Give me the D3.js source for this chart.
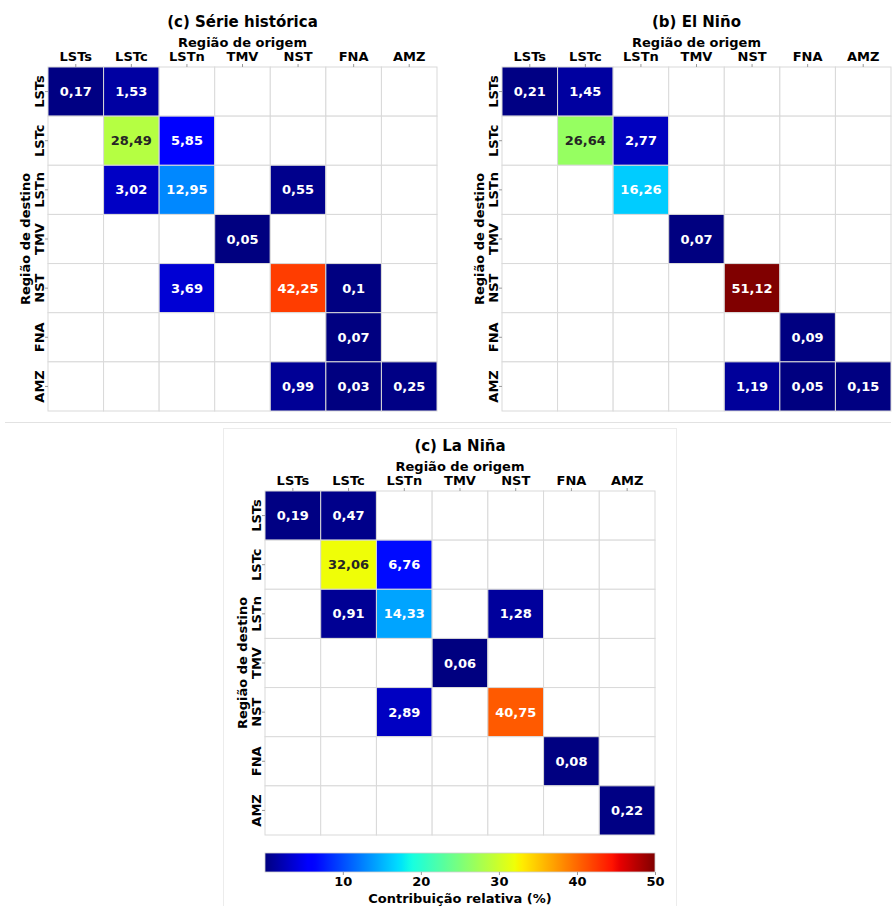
<!DOCTYPE html>
<html>
<head>
<meta charset="utf-8">
<script src="https://cdn.jsdelivr.net/npm/d3@7/dist/d3.min.js"></script>
<style>
  html, body { margin: 0; padding: 0; background: #fff; }
  svg { display: block; font-family: "DejaVu Sans", sans-serif; }
</style>
</head>
<body>
<svg id="chart" width="896" height="906"></svg>
<script>
// Regions (origin = columns, destination = rows)
const regions = ["LSTs", "LSTc", "LSTn", "TMV", "NST", "FNA", "AMZ"];

// Relative contribution (%), rows = destination, columns = origin; null = no contribution
const serieHistorica = [
  [0.17, 1.53, null, null, null, null, null],
  [null, 28.49, 5.85, null, null, null, null],
  [null, 3.02, 12.95, null, 0.55, null, null],
  [null, null, null, 0.05, null, null, null],
  [null, null, 3.69, null, 42.25, 0.1, null],
  [null, null, null, null, null, 0.07, null],
  [null, null, null, null, 0.99, 0.03, 0.25]
];
const elNino = [
  [0.21, 1.45, null, null, null, null, null],
  [null, 26.64, 2.77, null, null, null, null],
  [null, null, 16.26, null, null, null, null],
  [null, null, null, 0.07, null, null, null],
  [null, null, null, null, 51.12, null, null],
  [null, null, null, null, null, 0.09, null],
  [null, null, null, null, 1.19, 0.05, 0.15]
];
const laNina = [
  [0.19, 0.47, null, null, null, null, null],
  [null, 32.06, 6.76, null, null, null, null],
  [null, 0.91, 14.33, null, 1.28, null, null],
  [null, null, null, 0.06, null, null, null],
  [null, null, 2.89, null, 40.75, null, null],
  [null, null, null, null, null, 0.08, null],
  [null, null, null, null, null, null, 0.22]
];
const panelTitles = ["(c) Série histórica", "(b) El Niño", "(c) La Niña"];
const colorbarTicks = [10, 20, 30, 40, 50];
const colorDomain = [0.03, 50];

// Matplotlib "jet" colormap, piecewise linear
const jetR = [[0, 0], [0.35, 0], [0.66, 1], [0.89, 1], [1, 0.5]];
const jetG = [[0, 0], [0.125, 0], [0.375, 1], [0.64, 1], [0.91, 0], [1, 0]];
const jetB = [[0, 0.5], [0.11, 1], [0.34, 1], [0.65, 0], [1, 0]];
function seg(pts, t) {
  for (let i = 1; i < pts.length; i++) {
    if (t <= pts[i][0]) {
      const [x0, y0] = pts[i - 1], [x1, y1] = pts[i];
      return y0 + (y1 - y0) * (t - x0) / (x1 - x0);
    }
  }
  return pts[pts.length - 1][1];
}
function jet(t) {
  t = Math.max(0, Math.min(1, t));
  return [seg(jetR, t), seg(jetG, t), seg(jetB, t)];
}
const norm = d3.scaleLinear().domain(colorDomain).range([0, 1]).clamp(true);
function colorOf(v) {
  const [r, g, b] = jet(norm(v));
  return d3.rgb(r * 255, g * 255, b * 255).formatHex();
}
function textColorOf(v) {
  const [r, g, b] = jet(norm(v));
  const lum = 0.299 * r + 0.587 * g + 0.114 * b;
  return lum > 0.6 ? "#262626" : "#ffffff";
}
const fmt = v => String(v).replace(".", ",");

const svg = d3.select("#chart");

// Separator and frame around the lower panel
svg.append("line").attr("x1", 5).attr("x2", 891).attr("y1", 422.5).attr("y2", 422.5)
  .attr("stroke", "#e2e2e2").attr("stroke-width", 1.2);
svg.append("rect").attr("x", 223.5).attr("y", 428.5).attr("width", 453).attr("height", 490)
  .attr("fill", "none").attr("stroke", "#ececec").attr("stroke-width", 1);

function heatmap(data, title, box) {
  const g = svg.append("g");
  const x = d3.scaleBand().domain(regions).range([box.x0, box.x1]);
  const y = d3.scaleBand().domain(regions).range([box.y0, box.y1]);
  const cells = [];
  data.forEach((row, i) => row.forEach((v, j) => cells.push({ dest: regions[i], orig: regions[j], v })));

  g.selectAll("rect.cell").data(cells).join("rect")
    .attr("class", "cell")
    .attr("x", d => x(d.orig)).attr("y", d => y(d.dest))
    .attr("width", x.bandwidth()).attr("height", y.bandwidth())
    .attr("fill", d => d.v == null ? "#ffffff" : colorOf(d.v))
    .attr("stroke", "#d9d9d9").attr("stroke-width", 1);

  g.selectAll("text.val").data(cells.filter(d => d.v != null)).join("text")
    .attr("class", "val")
    .attr("x", d => x(d.orig) + x.bandwidth() / 2)
    .attr("y", d => y(d.dest) + y.bandwidth() / 2)
    .attr("text-anchor", "middle").attr("dominant-baseline", "central")
    .attr("font-size", 13).attr("font-weight", "bold")
    .attr("fill", d => textColorOf(d.v))
    .text(d => fmt(d.v));

  // top axis (origin)
  const top = g.append("g").attr("transform", `translate(0,${box.y0})`)
    .call(d3.axisTop(x).tickSize(3).tickPadding(3));
  top.select(".domain").remove();
  top.selectAll(".tick line").attr("stroke", "#999");
  top.selectAll(".tick text").attr("font-size", 13).attr("font-weight", "bold")
    .attr("fill", "#000").attr("font-family", "DejaVu Sans");

  // left axis (destination), labels rotated
  const left = g.append("g").attr("transform", `translate(${box.x0},0)`)
    .call(d3.axisLeft(y).tickSize(3).tickPadding(3));
  left.select(".domain").remove();
  left.selectAll(".tick line").attr("stroke", "#999");
  left.selectAll(".tick text").attr("font-size", 13).attr("font-weight", "bold")
    .attr("fill", "#000").attr("font-family", "DejaVu Sans")
    .attr("text-anchor", "middle").attr("dy", null).attr("x", null)
    .attr("transform", "translate(-4,0) rotate(-90)");

  const cx = (box.x0 + box.x1) / 2, cy = (box.y0 + box.y1) / 2;
  g.append("text").attr("x", cx).attr("y", box.y0 - 40)
    .attr("text-anchor", "middle").attr("font-size", 15).attr("font-weight", "bold").text(title);
  g.append("text").attr("x", cx).attr("y", box.y0 - 20)
    .attr("text-anchor", "middle").attr("font-size", 13).attr("font-weight", "bold").text("Região de origem");
  g.append("text").attr("transform", `translate(${box.x0 - 18},${cy}) rotate(-90)`)
    .attr("text-anchor", "middle").attr("font-size", 13).attr("font-weight", "bold").text("Região de destino");
}

heatmap(serieHistorica, panelTitles[0], { x0: 48, x1: 437, y0: 67, y1: 411 });
heatmap(elNino, panelTitles[1], { x0: 502, x1: 891, y0: 67, y1: 411 });
heatmap(laNina, panelTitles[2], { x0: 265, x1: 655, y0: 491, y1: 835 });

// Colorbar
const cb = { x0: 265, x1: 655, y0: 853, y1: 872 };
const defs = svg.append("defs");
const grad = defs.append("linearGradient").attr("id", "jetGrad")
  .attr("x1", "0%").attr("x2", "100%").attr("y1", "0%").attr("y2", "0%");
d3.range(0, 1.0001, 0.01).forEach(t => {
  const [r, g, b] = jet(t);
  grad.append("stop").attr("offset", (t * 100) + "%").attr("stop-color", d3.rgb(r * 255, g * 255, b * 255).formatHex());
});
svg.append("rect").attr("x", cb.x0).attr("y", cb.y0).attr("width", cb.x1 - cb.x0).attr("height", cb.y1 - cb.y0)
  .attr("fill", "url(#jetGrad)").attr("stroke", "#d0d0d0").attr("stroke-width", 0.8);
const cbScale = d3.scaleLinear().domain(colorDomain).range([cb.x0, cb.x1]);
const cbAxis = svg.append("g").attr("transform", `translate(0,${cb.y1})`)
  .call(d3.axisBottom(cbScale).tickValues(colorbarTicks).tickSize(3).tickPadding(2));
cbAxis.select(".domain").remove();
cbAxis.selectAll(".tick line").attr("stroke", "#999");
cbAxis.selectAll(".tick text").attr("font-size", 13).attr("font-weight", "bold")
  .attr("fill", "#000").attr("font-family", "DejaVu Sans");
svg.append("text").attr("x", (cb.x0 + cb.x1) / 2).attr("y", 903)
  .attr("text-anchor", "middle").attr("font-size", 13).attr("font-weight", "bold")
  .text("Contribuição relativa (%)");
</script>
</body>
</html>
